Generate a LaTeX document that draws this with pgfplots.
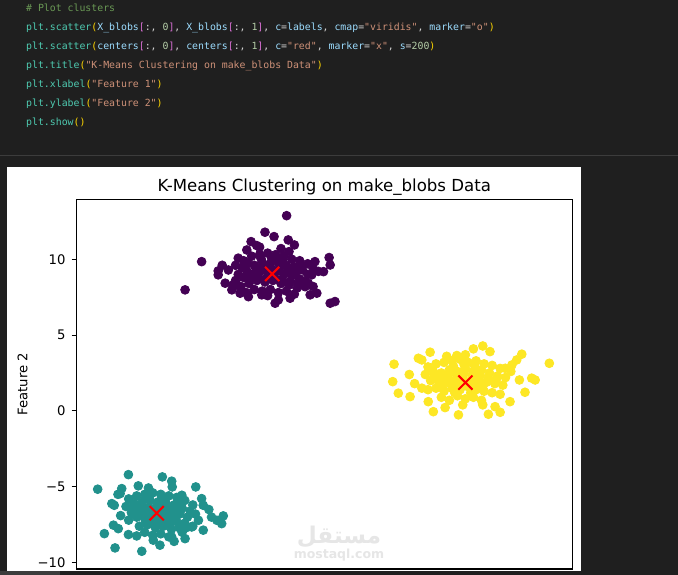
\documentclass[border=0pt]{standalone}
\usepackage{pgfplots}
\pgfplotsset{compat=1.18}
\usepackage{pgfplotstable}
\usepackage{fontspec}
\setmainfont{DejaVu Sans}
\newfontfamily\codefont{DejaVu Sans Mono}
\newfontfamily\arabicfont[Script=Arabic]{DejaVu Sans}
\TeXXeTstate=1
\definecolor{bgdark}{HTML}{1F1F1F}
\definecolor{sepgray}{HTML}{3C3C3C}
\definecolor{ccom}{HTML}{6A9955}
\definecolor{cfun}{HTML}{4EC9B0}
\definecolor{cpar}{HTML}{FFD700}
\definecolor{cbrk}{HTML}{DA70D6}
\definecolor{cvar}{HTML}{9CDCFE}
\definecolor{cnum}{HTML}{B5CEA8}
\definecolor{cstr}{HTML}{CE9178}
\definecolor{cwht}{HTML}{D4D4D4}
\definecolor{vpurple}{HTML}{440154}
\definecolor{vteal}{HTML}{21918C}
\definecolor{vyellow}{HTML}{FDE725}
\definecolor{wmark}{HTML}{E6E6E6}
\newcommand\cF[1]{\textcolor{cfun}{#1}}
\newcommand\cP[1]{\textcolor{cpar}{#1}}
\newcommand\cB[1]{\textcolor{cbrk}{#1}}
\newcommand\cV[1]{\textcolor{cvar}{#1}}
\newcommand\cN[1]{\textcolor{cnum}{#1}}
\newcommand\cS[1]{\textcolor{cstr}{#1}}
\newcommand\cW[1]{\textcolor{cwht}{#1}}

\pgfplotstableread{
x y
-1.99 12.87
-2.80 11.78
-2.46 11.49
-1.93 11.27
-1.70 10.94
-3.32 11.16
-3.11 10.90
-3.48 10.61
-5.17 9.84
-5.79 7.98
-4.55 9.23
-4.55 8.97
-4.17 9.29
-4.29 8.42
-3.80 10.07
-0.40 10.11
-0.36 9.62
-0.93 9.84
-0.61 9.18
-1.05 8.97
-1.18 8.42
-1.30 8.19
-1.11 7.65
-0.86 7.76
-0.36 7.10
-0.18 7.21
-2.42 7.10
-2.30 7.32
-1.86 7.43
-2.92 7.65
-3.42 7.53
-3.73 7.76
-4.04 7.98
-3.9 9.6
-3.6 9.9
-3.3 10.2
-3.0 10.3
-2.7 10.4
-2.4 10.3
-2.1 10.2
-1.8 10.0
-1.5 9.9
-1.2 9.7
-1.0 9.4
-3.8 9.0
-3.5 9.3
-3.2 9.6
-2.9 9.8
-2.6 9.7
-2.3 9.8
-2.0 9.6
-1.7 9.5
-1.4 9.3
-1.2 9.0
-3.9 8.6
-3.6 8.8
-3.3 9.0
-3.0 9.2
-2.7 9.1
-2.4 9.2
-2.1 9.0
-1.8 8.9
-1.5 8.7
-1.3 8.5
-3.7 8.2
-3.4 8.4
-3.1 8.6
-2.8 8.5
-2.5 8.6
-2.2 8.4
-1.9 8.3
-1.6 8.1
-3.2 8.0
-2.9 7.9
-2.6 8.0
-2.3 7.8
-2.0 7.9
-1.7 7.7
-2.7 7.6
-3.5 7.8
-4.4 9.6
-4.0 8.3
-1.0 8.2
-0.8 9.2
-3.0 10.8
-2.2 10.7
-1.9 10.5
-3.45 9.75
-3.15 9.45
-2.85 9.55
-2.55 9.35
-2.25 9.45
-1.95 9.25
-1.65 9.15
-3.35 8.75
-3.05 8.85
-2.75 8.75
-2.45 8.85
-2.15 8.65
-1.85 8.55
-2.95 10.05
-2.55 10.05
-2.15 9.95
-3.65 9.45
-1.45 9.60
-1.55 8.40
-3.85 8.30
}\clusterA

\pgfplotstableread{
x y
-7.91 -4.20
-9.06 -5.16
-6.64 -4.35
-6.29 -4.63
-6.27 -5.01
-5.39 -5.01
-8.16 -5.12
-8.22 -5.45
-7.54 -4.94
-7.16 -5.08
-8.53 -6.11
-8.44 -6.22
-5.17 -5.78
-5.11 -6.22
-5.91 -5.56
-4.60 -7.21
-4.36 -6.92
-4.42 -7.43
-5.11 -7.86
-8.47 -7.53
-8.29 -7.76
-8.81 -8.09
-8.41 -9.03
-7.41 -9.25
-7.91 -8.15
-7.60 -8.24
-6.73 -8.85
-5.79 -8.42
-6.29 -8.31
-6.98 -8.52
-5.54 -7.65
-5.29 -7.21
-7.9 -5.8
-7.6 -5.6
-7.3 -5.5
-7.0 -5.4
-6.7 -5.5
-6.4 -5.6
-6.1 -5.7
-5.8 -5.9
-5.5 -6.2
-8.0 -6.3
-7.7 -6.1
-7.4 -6.0
-7.1 -5.9
-6.8 -6.0
-6.5 -6.1
-6.2 -6.2
-5.9 -6.4
-5.6 -6.6
-7.8 -6.7
-7.5 -6.5
-7.2 -6.6
-6.9 -6.5
-6.6 -6.7
-6.3 -6.6
-6.0 -6.8
-5.7 -7.0
-5.4 -6.8
-7.9 -7.2
-7.6 -7.0
-7.3 -7.1
-7.0 -7.0
-6.7 -7.2
-6.4 -7.1
-6.1 -7.3
-5.8 -7.4
-5.5 -7.6
-7.5 -7.6
-7.2 -7.5
-6.9 -7.7
-6.6 -7.6
-6.3 -7.8
-6.0 -7.7
-7.3 -8.0
-7.0 -8.2
-6.7 -8.1
-6.4 -8.3
-8.2 -6.9
-8.3 -5.5
-4.9 -6.5
-4.8 -7.0
-6.2 -8.6
-5.9 -8.0
-7.45 -6.25
-7.15 -6.35
-6.85 -6.25
-6.55 -6.35
-6.25 -6.45
-5.95 -6.55
-7.35 -6.85
-7.05 -6.95
-6.75 -6.85
-6.45 -6.95
-6.15 -7.05
-7.25 -7.35
-6.95 -7.35
-6.65 -7.45
-6.35 -7.45
-7.15 -5.75
-6.55 -5.85
-5.75 -7.70
-7.75 -6.45
-6.05 -6.10
}\clusterB

\pgfplotstableread{
x y
2.03 3.08
1.98 1.93
2.19 1.17
2.63 0.94
3.38 3.87
2.94 3.47
3.07 3.36
4.38 3.65
5.00 4.09
5.35 4.28
5.62 3.91
6.81 3.74
6.62 3.36
6.44 3.03
7.84 3.14
7.18 2.16
7.31 2.04
6.72 2.04
6.93 1.23
6.37 0.61
5.81 0.28
6.00 -0.09
5.56 -0.22
5.35 0.40
4.44 -0.26
3.50 -0.05
3.31 0.61
3.94 0.22
3.07 1.50
6.19 2.81
3.3 2.9
3.6 3.1
3.9 3.2
4.2 3.3
4.5 3.4
4.8 3.2
5.1 3.3
5.4 3.1
5.7 3.0
6.0 2.8
3.2 2.4
3.5 2.6
3.8 2.5
4.1 2.7
4.4 2.6
4.7 2.8
5.0 2.6
5.3 2.7
5.6 2.5
5.9 2.3
6.2 2.2
3.4 2.0
3.7 1.9
4.0 2.1
4.3 2.0
4.6 2.2
4.9 1.9
5.2 2.1
5.5 1.9
5.8 1.8
6.1 1.7
3.3 1.4
3.6 1.5
3.9 1.3
4.2 1.5
4.5 1.4
4.8 1.6
5.1 1.4
5.4 1.3
5.7 1.2
6.0 1.1
3.8 0.9
4.1 0.7
4.4 1.0
4.7 0.8
5.0 0.9
5.3 0.7
4.6 0.4
2.8 1.8
2.6 2.4
6.4 2.6
4.0 3.6
4.7 3.7
3.75 2.25
4.05 2.35
4.35 2.45
4.65 2.50
4.95 2.30
5.25 2.35
5.55 2.20
3.85 1.65
4.15 1.80
4.45 1.75
4.75 1.90
5.05 1.75
5.35 1.65
4.25 2.95
4.65 3.05
5.05 2.95
3.55 2.30
5.85 2.05
4.30 1.20
4.90 1.20
}\clusterC

\pgfplotstableread{
x y
-2.53 9.03
-6.85 -6.74
4.70 1.87
}\centers

\begin{document}
\begin{tikzpicture}
\useasboundingbox (0pt,0pt) rectangle (678pt,575pt);
\clip (0pt,0pt) rectangle (678pt,575pt);
\fill[bgdark] (0pt,0pt) rectangle (678pt,575pt);
\fill[sepgray] (0pt,418.5pt) rectangle (678pt,420pt);
% code lines
\begin{scope}[every node/.style={anchor=base west, inner sep=0pt, font=\codefont\fontsize{9.85}{12}\selectfont}]
\node at (26pt,563pt) {\textcolor{ccom}{\# Plot clusters}};
\node at (26pt,544pt) {\cF{plt.scatter}\cP{(}\cV{X\_blobs}\cB{[}\cW{:, }\cN{0}\cB{]}\cW{, }\cV{X\_blobs}\cB{[}\cW{:, }\cN{1}\cB{]}\cW{, }\cV{c}\cW{=}\cV{labels}\cW{, }\cV{cmap}\cW{=}\cS{"viridis"}\cW{, }\cV{marker}\cW{=}\cS{"o"}\cP{)}};
\node at (26pt,525pt) {\cF{plt.scatter}\cP{(}\cV{centers}\cB{[}\cW{:, }\cN{0}\cB{]}\cW{, }\cV{centers}\cB{[}\cW{:, }\cN{1}\cB{]}\cW{, }\cV{c}\cW{=}\cS{"red"}\cW{, }\cV{marker}\cW{=}\cS{"x"}\cW{, }\cV{s}\cW{=}\cN{200}\cP{)}};
\node at (26pt,506pt) {\cF{plt.title}\cP{(}\cS{"K-Means Clustering on make\_blobs Data"}\cP{)}};
\node at (26pt,487pt) {\cF{plt.xlabel}\cP{(}\cS{"Feature 1"}\cP{)}};
\node at (26pt,468pt) {\cF{plt.ylabel}\cP{(}\cS{"Feature 2"}\cP{)}};
\node at (26pt,449pt) {\cF{plt.show}\cP{()}};
\end{scope}
% figure panel
\fill[white] (7pt,4.3pt) rectangle (581pt,408pt);
\begin{axis}[
  at={(76.3pt,375.7pt)}, anchor=north west,
  scale only axis, width=496pt, height=369.7pt,
  xmin=-9.86, xmax=8.70, ymin=-10.42, ymax=13.95,
  xtick=\empty,
  ytick={-10,-5,0,5,10},
  yticklabels={−10,−5,0,5,10},
  ytick pos=left,
  tick align=outside,
  major tick length=4.6pt,
  every tick/.style={black, line width=1.05pt},
  axis line style={black, line width=1.05pt},
  yticklabel style={font=\fontsize{13.2}{15}\selectfont, inner sep=2pt, xshift=-4pt},
  title={K-Means Clustering on make\_blobs Data},
  title style={at={(0.5,1)}, anchor=base, yshift=1.6pt, font=\fontsize{16.6}{19}\selectfont},
  ylabel={Feature 2},
  ylabel style={at={(axis description cs:-0.1085,0.5)}, anchor=center, font=\fontsize{13.2}{15}\selectfont},
  clip=false,
]
\addplot[only marks, mark=*, color=vpurple, mark size=4.4pt, mark options={line width=0.8pt, draw=vpurple, fill=vpurple}] table {\clusterA};
\addplot[only marks, mark=*, color=vteal, mark size=4.4pt, mark options={line width=0.8pt, draw=vteal, fill=vteal}] table {\clusterB};
\addplot[only marks, mark=*, color=vyellow, mark size=4.4pt, mark options={line width=0.8pt, draw=vyellow, fill=vyellow}] table {\clusterC};
\addplot[only marks, mark=x, color=red, mark size=10pt, mark options={draw=red, line width=2pt}] table {\centers};
\end{axis}
% watermark
\node[text=wmark, inner sep=0pt, anchor=base] at (339pt,31pt) {\arabicfont\bfseries\fontsize{23}{25}\selectfont\beginR مستقل\endR};
\node[text=wmark, inner sep=0pt, anchor=base] at (339pt,16pt) {\bfseries\fontsize{12.5}{14}\selectfont mostaql.com};
% bottom strip
\fill[sepgray] (0pt,0pt) rectangle (60pt,3.5pt);
\end{tikzpicture}
\end{document}
